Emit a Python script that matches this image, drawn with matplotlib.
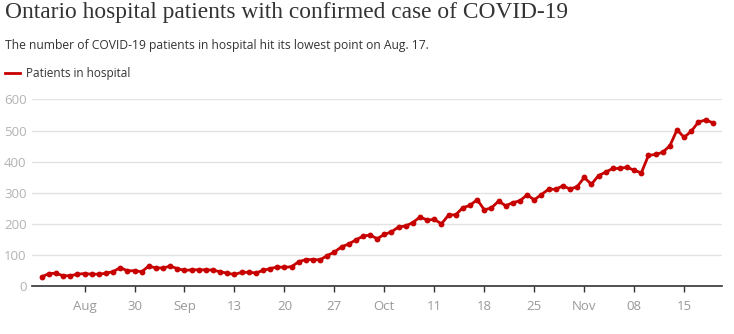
import datetime as dt
import matplotlib
matplotlib.use("Agg")
import matplotlib.pyplot as plt
import matplotlib.dates as mdates

# Daily patients in hospital, Aug 17 - Nov 19
start_date = "2020-08-17"
patients = [
    29, 40, 41, 33, 33, 38, 40, 38, 38, 41, 46, 59, 49, 49, 46,          # Aug 17-31
    64, 58, 58, 64, 56, 50, 52, 52, 52, 51, 46, 41, 37, 44, 44,          # Sep 1-15
    42, 50, 56, 61, 60, 62, 78, 85, 85, 84, 98, 109, 126, 135, 148,      # Sep 16-30
    160, 164, 152, 166, 174, 190, 193, 204, 222, 212, 214, 200, 228, 229, 252,  # Oct 1-15
    259, 278, 245, 251, 273, 258, 268, 274, 293, 277, 294, 311, 311, 322, 312, 319,  # Oct 16-31
    349, 327, 355, 366, 378, 378, 382, 372, 364, 420, 423, 430, 451, 502, 478,  # Nov 1-15
    498, 527, 534, 525,                                                  # Nov 16-19
]
tick_dates = ["2020-08-23", "2020-08-30", "2020-09-06", "2020-09-13", "2020-09-20",
              "2020-09-27", "2020-10-04", "2020-10-11", "2020-10-18", "2020-10-25",
              "2020-11-01", "2020-11-08", "2020-11-15"]
tick_labels = ["Aug", "30", "Sep", "13", "20", "27", "Oct", "11", "18", "25", "Nov", "08", "15"]
y_ticks = [0, 100, 200, 300, 400, 500, 600]

d0 = dt.date.fromisoformat(start_date)
dates = [d0 + dt.timedelta(days=i) for i in range(len(patients))]
ticks = [dt.date.fromisoformat(t) for t in tick_dates]

W, H = 734, 334
fig = plt.figure(figsize=(W / 100, H / 100), dpi=100)
ax = fig.add_axes([32 / W, 1 - 286 / H, (722 - 32) / W, (286 - 99.4) / H])

red = "#c70000"
ax.plot(dates, patients, color=red, linewidth=2, marker="o", markersize=4.2,
        markeredgewidth=0, zorder=3, clip_on=False)

ax.set_ylim(0, 600)
ax.set_xlim(mdates.date2num(dates[0]) - 1.36, mdates.date2num(dates[-1]) + 1.3)
ax.set_yticks(y_ticks)
ax.set_xticks(ticks)
ax.set_xticklabels(tick_labels)

ax.grid(axis="y", color="#e3e3e3", linewidth=1)
ax.set_axisbelow(True)
for s in ["top", "right", "left"]:
    ax.spines[s].set_visible(False)
ax.spines["bottom"].set_color("#333333")
ax.spines["bottom"].set_linewidth(1.2)

ax.tick_params(axis="y", length=0, pad=4, labelsize=9.5, labelcolor="#b3b3b3")
ax.tick_params(axis="x", length=4, width=1, color="#333333", pad=6,
               labelsize=9.5, labelcolor="#999999")
for lab in ax.get_xticklabels() + ax.get_yticklabels():
    lab.set_fontfamily("Open Sans")

fig.text(5 / W, 1 - 2 / H, "Ontario hospital patients with confirmed case of COVID-19",
         ha="left", va="top", fontsize=16.8, family="Liberation Serif", color="#333333")
fig.text(5 / W, 1 - 45 / H,
         "The number of COVID-19 patients in hospital hit its lowest point on Aug. 17.",
         ha="left", va="center", fontsize=8.7, family="Open Sans", color="#333333")
fig.add_artist(plt.Line2D([5 / W, 20 / W], [1 - 73 / H, 1 - 73 / H], color=red, linewidth=2))
fig.text(26 / W, 1 - 73 / H, "Patients in hospital", ha="left", va="center",
         fontsize=8.5, family="Open Sans", color="#333333")

fig.savefig("out.png", dpi=100)
